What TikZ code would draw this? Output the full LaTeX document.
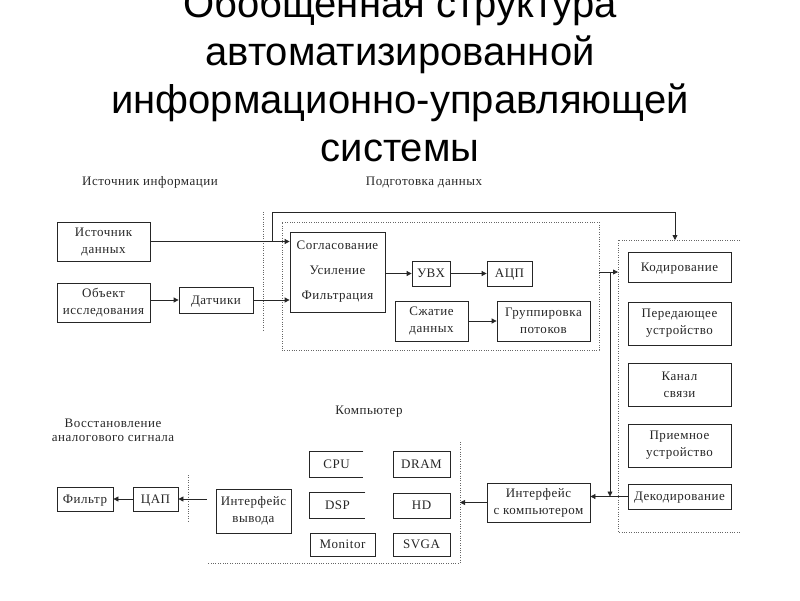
\documentclass[tikz,border=0pt]{standalone}
\usepackage{fontspec}
\setmainfont{Liberation Serif}[LetterSpace=4]
\newfontfamily\titlefont{Liberation Sans}
\usetikzlibrary{arrows.meta}
\begin{document}
\begin{tikzpicture}[x=1pt,y=-1pt,
  blk/.style={draw=black!85, line width=0.8pt, inner sep=0pt, align=center,
    font=\fontsize{13}{17}\selectfont, text=black!85},
  one/.style={text height=8.5pt, text depth=0pt},
  openblk/.style={blk, draw=none},
  lbl/.style={inner sep=0pt, align=center, font=\fontsize{13}{15}\selectfont, text=black!85},
  conn/.style={line width=0.8pt, draw=black!85},
  arr/.style={conn, -{Triangle[length=5pt,width=5pt]}},
  zone/.style={draw=black!60, line width=0.7pt, dash pattern=on 0.8pt off 1.6pt},
  ttl/.style={font=\titlefont\fontsize{40}{48}\selectfont, anchor=base, inner sep=0pt, text=black}]
\useasboundingbox (0,0) rectangle (800,600);

% title
\node[ttl] (t1) at (400,17) {Обобщенная структура};
\node[ttl] (t2) at (400,65) {автоматизированной};
\node[ttl] (t3) at (400,113) {информационно-управляющей};
\node[ttl] (t4) at (400,161) {системы};

% headings
\node[lbl] (h1) at (150,182) {Источник информации};
\node[lbl] (h2) at (424,182) {Подготовка данных};
\node[lbl] (h3) at (113,423) {Восстановление};
\node[lbl] (h3b) at (113,438) {аналогового сигнала};
\node[lbl] (h4) at (369,412) {Компьютер};

% zones
\coordinate (s1a) at (263,212);
\coordinate (s1b) at (263,330);
\draw[zone] (s1a) -- (s1b);
\node[zone, minimum width=317pt, minimum height=128pt, inner sep=0pt] (prep) at (440.5,286) {};
\coordinate (rz1) at (740,240);
\coordinate (rz2) at (618,240);
\coordinate (rz3) at (618,532);
\coordinate (rz4) at (740,532);
\draw[zone] (rz1) -- (rz2) -- (rz3) -- (rz4);
\coordinate (cz1) at (460,442);
\coordinate (cz2) at (460,563);
\coordinate (cz3) at (208,563);
\draw[zone] (cz1) -- (cz2) -- (cz3);
\coordinate (s2a) at (188,475);
\coordinate (s2b) at (188,522);
\draw[zone] (s2a) -- (s2b);

% source blocks
\node[blk, minimum width=93pt, minimum height=39pt] (src) at (103.5,241.5) {Источник\\данных};
\node[blk, minimum width=93pt, minimum height=39pt] (obj) at (103.5,302.5) {Объект\\исследования};
\node[blk, one, minimum width=74pt, minimum height=26pt] (dat) at (216,300) {Датчики};

% preparation
\node[blk, minimum width=95pt, minimum height=80pt, font=\fontsize{13}{25}\selectfont] (sog) at (337.5,272) {Согласование\\Усиление\\Фильтрация};
\node[blk, one, minimum width=38pt, minimum height=25pt] (uvx) at (431,273.5) {УВХ};
\node[blk, one, minimum width=45pt, minimum height=25pt] (acp) at (509.5,273.5) {АЦП};
\node[blk, minimum width=73pt, minimum height=40pt] (szh) at (431.5,321) {Сжатие\\данных};
\node[blk, minimum width=93pt, minimum height=40pt] (grp) at (543.5,321) {Группировка\\потоков};

% transmission
\node[blk, one, minimum width=103pt, minimum height=30pt] (kod) at (679.5,267) {Кодирование};
\node[blk, minimum width=103pt, minimum height=43pt] (per) at (679.5,323.5) {Передающее\\устройство};
\node[blk, minimum width=103pt, minimum height=43pt] (kan) at (679.5,384.5) {Канал\\связи};
\node[blk, minimum width=103pt, minimum height=43pt] (pri) at (679.5,445.5) {Приемное\\устройство};
\node[blk, one, minimum width=103pt, minimum height=25pt] (dek) at (679.5,496.5) {Декодирование};
\node[blk, minimum width=103pt, minimum height=39pt] (ikomp) at (538.5,502.5) {Интерфейс\\с компьютером};

% computer
\node[openblk, one, minimum width=53pt, minimum height=25pt] (cpu) at (336.5,464.5) {CPU};
\draw[conn] (cpu.north east) -- (cpu.north west) -- (cpu.south west) -- (cpu.south east);
\node[blk, one, minimum width=57pt, minimum height=26pt] (dram) at (421.5,464) {DRAM};
\node[openblk, one, minimum width=55pt, minimum height=25pt] (dsp) at (337.5,505.5) {DSP};
\draw[conn] (dsp.north east) -- (dsp.north west) -- (dsp.south west) -- (dsp.south east);
\node[blk, one, minimum width=57pt, minimum height=25pt] (hd) at (421.5,505.5) {HD};
\node[blk, one, minimum width=65pt, minimum height=23pt] (mon) at (342.5,544.5) {Monitor};
\node[blk, one, minimum width=57pt, minimum height=23pt] (svga) at (421.5,544.5) {SVGA};

% restoration
\node[blk, one, minimum width=56pt, minimum height=24pt] (filt) at (85,499) {Фильтр};
\node[blk, one, minimum width=45pt, minimum height=24pt] (cap) at (155.5,499) {ЦАП};
\node[blk, minimum width=75pt, minimum height=44pt] (ivyv) at (253.5,511) {Интерфейс\\вывода};

% connectors
\draw[arr] (src.east) -- (src.east -| sog.west);
\coordinate (br1) at (272,212);
\coordinate (rtop) at (675,240);
\draw[arr] (src.east -| br1) -- (br1) -- (br1 -| rtop) -- (rtop);
\draw[arr] (obj.east |- dat.west) -- (dat.west);
\draw[arr] (dat.east) -- (dat.east -| sog.west);
\draw[arr] (sog.east |- uvx.west) -- (uvx.west);
\draw[arr] (uvx.east) -- (acp.west);
\draw[arr] (szh.east) -- (grp.west);
\coordinate (pout) at (599,272);
\coordinate (jn) at (610,272);
\draw[arr] (pout) -- (pout -| rz2);
\draw[arr] (jn) -- (jn |- dek.west);
\draw[arr] (dek.west) -- (dek.west -| ikomp.east);
\draw[arr] (ikomp.west) -- (ikomp.west -| cz1);
\draw[arr, shorten <=9pt] (ivyv.west |- cap.east) -- (cap.east);
\draw[arr] (cap.west) -- (filt.east);
\end{tikzpicture}
\end{document}
